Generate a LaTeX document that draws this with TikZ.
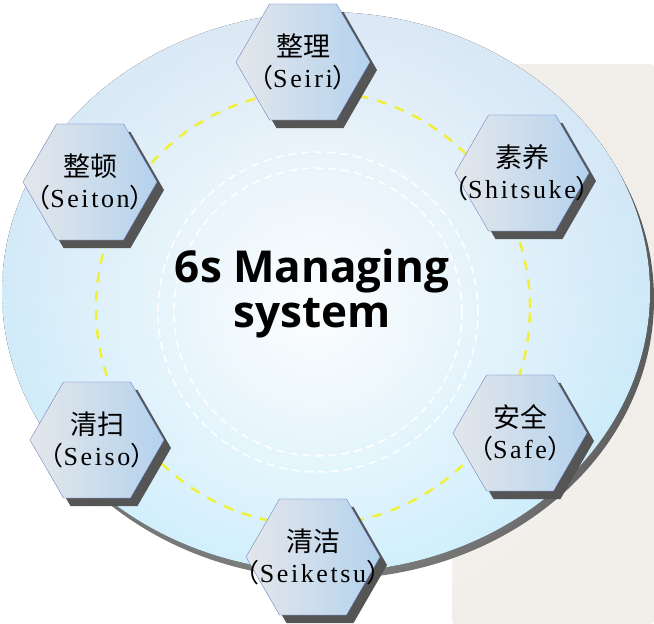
\documentclass[tikz,border=0pt]{standalone}
\usepackage{fontspec}
\newfontfamily\cjk{Noto Sans CJK SC}
\newfontfamily\hexfont[LetterSpace=10]{Liberation Serif}
\newfontfamily\titlefont{Open Sans}
\usepackage{tikz}
\usetikzlibrary{shapes.geometric}
\usetikzlibrary{shadows,fadings}
\definecolor{beige}{RGB}{241,238,233}
\definecolor{shadowgray}{RGB}{85,85,85}
\definecolor{ringtop}{RGB}{214,229,244}
\definecolor{ringbottom}{RGB}{196,236,252}
\definecolor{hexgray}{RGB}{228,231,235}
\definecolor{hexblue}{RGB}{180,210,237}
\definecolor{hexedge}{RGB}{90,110,190}
\definecolor{yellowdash}{RGB}{240,240,60}
\tikzfading[name=glow fade,inner color=transparent!0,outer color=transparent!100]
\newcommand{\hexlabel}[2]{\makebox[0pt]{\cjk\fontsize{27}{30}\selectfont #1}\\\makebox[0pt]{{\cjk （}#2{\cjk ）}}}
\tikzset{hex node/.style={regular polygon,regular polygon sides=6,minimum size=134pt,inner sep=0pt,
    left color=hexgray,right color=hexblue,draw=hexedge,line width=0.3pt,
    drop shadow={shadow xshift=7pt,shadow yshift=-8pt,fill=shadowgray,opacity=1},
    align=center,font=\hexfont\fontsize{26}{31}\selectfont},
  title node/.style={align=center,font=\titlefont\bfseries\fontsize{44}{45}\selectfont},}

\begin{document}
\begin{tikzpicture}[x=1pt,y=-1pt]
    \useasboundingbox (0,0) rectangle (654,624);
    \fill[beige,rounded corners=3pt] (452,64) rectangle (654,624);
    \fill[shadowgray] (330,299) ellipse [x radius=324pt,y radius=280pt];
    \fill[top color=ringtop,bottom color=ringbottom] (326,292) ellipse [x radius=324pt,y radius=280pt];
    \fill[white,path fading=glow fade,opacity=0.95] (315,308) circle (350pt);
    \draw[white,line width=1.5pt,dash pattern=on 8pt off 5pt] (318,312) circle (160pt);
    \draw[white,line width=1.5pt,dash pattern=on 8pt off 5pt] (318,312) circle (144pt);
    \draw[yellowdash,line width=2.5pt,dash pattern=on 10pt off 9pt] (313,308) circle (217pt);

    \node[hex node] (seiri) at (303,62) {\hexlabel{整理}{Seiri}};
    \node[hex node] (shitsuke) at (522,173) {\hexlabel{素养}{Shitsuke}};
    \node[hex node] (safe) at (520,433) {\hexlabel{安全}{Safe}};
    \node[hex node] (seiketsu) at (313,557) {\hexlabel{清洁}{Seiketsu}};
    \node[hex node] (seiso) at (97,440) {\hexlabel{清扫}{Seiso}};
    \node[hex node] (seiton) at (90,182) {\hexlabel{整顿}{Seiton}};

    \node[title node] (title) at (312,294) {6s Managing\\system};
\end{tikzpicture}
\end{document}
